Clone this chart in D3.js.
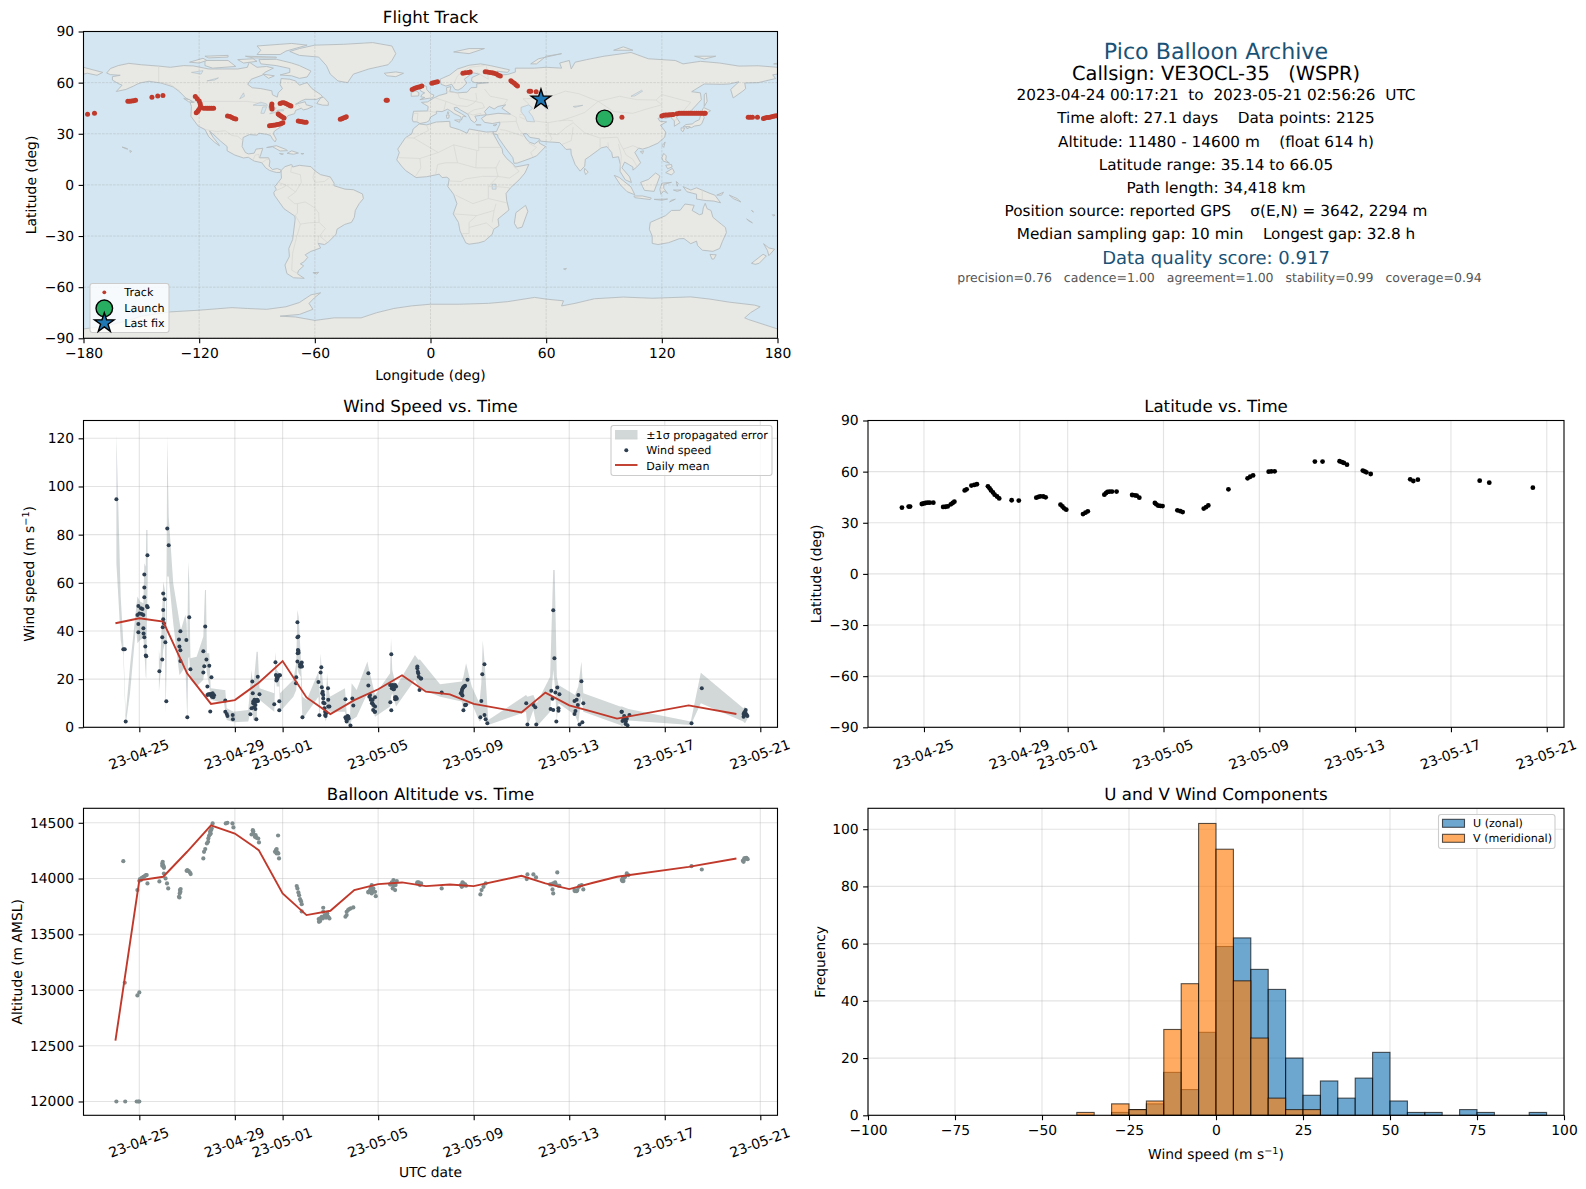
<!DOCTYPE html>
<html>
<head>
<meta charset="utf-8">
<script src="https://cdn.jsdelivr.net/npm/d3@7"></script>
<style>
    html, body { margin: 0; padding: 0; background: #fff; }
    svg { display: block; }
    text { font-family: "DejaVu Sans", sans-serif; fill: #000; text-rendering: geometricPrecision; }
</style>
</head>
<body>
<div id="chart"></div>
<script>
// ---- summary text
const headerLines = [
    "Pico Balloon Archive",
    "Callsign: VE3OCL-35   (WSPR)",
    "2023-04-24 00:17:21  to  2023-05-21 02:56:26  UTC",
    "Time aloft: 27.1 days    Data points: 2125",
    "Altitude: 11480 - 14600 m    (float 614 h)",
    "Latitude range: 35.14 to 66.05",
    "Path length: 34,418 km",
    "Position source: reported GPS    σ(E,N) = 3642, 2294 m",
    "Median sampling gap: 10 min    Longest gap: 32.8 h",
    "Data quality score: 0.917",
    "precision=0.76   cadence=1.00   agreement=1.00   stability=0.99   coverage=0.94"
];

// ---- axis ticks
const lonTicks = [-180, -120, -60, 0, 60, 120, 180];
const latTicks = [-90, -60, -30, 0, 30, 60, 90];
const speedTicks = [0, 20, 40, 60, 80, 100, 120];
const altTicks = [12000, 12500, 13000, 13500, 14000, 14500];
const freqTicks = [0, 20, 40, 60, 80, 100];
const histTicks = [-100, -75, -50, -25, 0, 25, 50, 75, 100];
const dateTicks = ["2023-04-25", "2023-04-29", "2023-05-01", "2023-05-05", "2023-05-09", "2023-05-13", "2023-05-17", "2023-05-21"];

// ---- flight track, degrees
const trackLon = [-177.9,-174.3,-157,-156,-155,-154,-153,-144.5,-141.5,-138.8,-122,-121,-120,-119.5,-119.3,-119.7,-120.4,-121.5,-120.8,-117.7,-116.5,-115.5,-114.5,-113.5,-112.5,-105.3,-104,-103,-102,-101,-82.3,-82.4,-82.3,-82.2,-78,-77,-76,-75,-74,-73,-72.4,-79,-78.4,-77.6,-76.8,-76,-83.5,-82.5,-81.5,-80.5,-79.5,-78.5,-77.5,-76.6,-68.6,-67.5,-66.5,-65.5,-64.5,-46.8,-46,-45.2,-44.4,-43.7,-23,-22.4,-9.5,-8.5,-7.5,-6.5,-5.5,-4.5,0.7,1.5,2.6,3.6,16.8,18,19.5,20.6,28.4,29.5,30.8,32,33,34.2,35.2,36.2,41.7,42.5,43.5,44.3,45.1,51.2,52,54.8,99.3,120,121,122,123,124,125,125.9,127.8,129,130,131,132,133,134,135,136,137,138,139,140,141,142,142.5,164.8,165.8,167,169.6,172.7,173.5,174.5,175.5,176.5,177.5,178.5,179.5];
const trackLat = [41.4,42,49.1,49.1,49.2,49.3,49.6,51.4,52.2,52.5,51.8,50.5,49.2,47.8,46.5,45,43.8,42.4,43,45,45,45,45,45,45,40.4,40.1,39.6,39,38.6,47.5,46.5,45.5,44.6,47.8,48.2,48.2,47.8,47.2,46.6,46.3,41.6,41,40.4,39.8,39.3,34.7,34.9,35,35.2,35.4,35.6,36,36.5,37.5,37.2,37,36.8,36.7,38.5,38.8,39.2,39.6,40,49.6,49.6,56,56.5,57,57.3,57.6,58,59.6,60,60.2,60.5,65.5,65.8,66,66.2,66.4,66.3,66,65.8,65.5,65,64.3,63.9,61.1,60.4,59.6,58.8,58,55,55,54.7,39.7,40.4,40.8,41,41,41.1,41.2,41.3,41.8,42,42,42,42.1,42,42,42,42,42,42,42,42,42,42,42,39.7,39.7,39.7,39.7,39,39.2,39.5,39.6,39.9,40.2,40.4,40.6];
const launchFix = [90.3, 39];
const lastFix = [57.3, 50.2];

// ---- wind speed, time in days after 2023-04-25 00:00 UTC
const speedDay = [-0.96,-0.67,-0.61,-0.57,-0.04,-0.04,-0.08,0,-0.04,0.07,0.1,0.17,0.17,0.18,0.21,0.25,0.27,0.29,0.21,0.21,0.21,0.34,0.35,0.32,0.13,0.84,0.96,0.96,0.98,1,1.03,1,1,1.06,1.09,1.13,1.17,1.23,1.66,1.72,1.68,1.72,1.72,1.97,2.01,2.09,2.14,2.68,2.68,2.72,2.76,2.81,2.93,3.02,2.85,2.85,2.96,3.04,3.1,3.07,2.97,3.6,3.6,3.66,3.69,3.91,3.92,4.65,4.7,4.73,4.75,4.77,4.82,4.86,4.86,4.9,4.96,4.97,5.03,5.65,5.7,5.74,5.75,5.78,5.85,5.86,5.86,6.57,6.56,6.62,6.62,6.66,6.62,6.64,6.67,6.76,6.8,6.73,6.83,7.5,7.54,7.59,7.62,7.64,7.68,7.7,7.7,7.75,7.78,7.8,7.9,7.91,7.96,8.63,8.63,8.68,8.75,8.84,8.92,8.96,9.59,9.59,9.66,9.71,9.76,9.79,9.87,9.87,9.87,10.51,10.55,10.55,10.57,10.71,10.64,10.75,10.71,11.64,11.68,11.73,11.78,11.8,12.66,13.46,13.51,13.57,13.64,13.74,13.57,13.65,13.53,14.28,14.32,14.36,14.45,14.45,14.5,14.57,16.2,16.25,16.5,16.58,16.62,17.22,17.25,17.3,17.33,17.33,17.38,17.42,17.46,17.5,17.55,17.55,17.59,18.22,18.22,18.26,18.31,18.36,18.38,18.43,18.51,18.55,18.59,20.19,20.23,20.3,20.36,20.44,20.52,20.41,23.12,23.55,25.3,25.36,25.39,25.43,25.33,
    2.89,2.99,3.04,3.13,3.07,4.77,4.84,4.8,4.89,4.94,5.75,5.81,5.89,5.72,6.73,6.78,6.81,6.66,6.63,7.66,7.7,7.75,7.82,7.78,7.91,8.65,8.72,8.68,8.77,9.63,9.69,9.74,9.8,9.77,9.85,10.5,10.61,10.71,10.57,10.66,10.75,10.71,10.78,11.64,11.66,11.7,13.5,13.54,13.6,13.5,13.64,13.68,20.2,20.27,20.3,20.37,25.33,25.36,25.4,25.46,25.3];
const speedValue = [94.7,32.4,32.4,2.4,39.5,42.9,46.6,47.3,50.4,49.4,47.1,46.6,41.1,39,37.4,33.6,29.8,29.5,54,58.1,63.5,71.4,49.8,50.4,49.1,23.3,28.2,37.4,41.5,44.9,43.2,48.7,55.6,53.2,35.3,10.8,82.6,75.6,36.5,39.9,33.6,32,27.5,36.3,4.2,45.7,24.1,31.6,22.8,25.3,41.9,28.2,25.6,20.8,16.9,13.4,13.8,13.8,12.5,13,6.6,11.1,6.5,5.5,4.7,5.1,3.3,5.4,7.9,19,14.1,10.7,11.4,9.3,7.6,3.3,21,10.9,13.7,9.6,27,19.4,21.3,20.2,21.6,10.8,7.1,20.8,18.3,43.6,37.4,37.7,27.3,32.1,31,25.2,26.9,26.2,4.2,18.8,5,22.8,24.9,16.6,14.8,13.4,10.2,7.9,6.5,4.7,16.2,11.4,8.6,11.6,4.2,3,4.4,0.7,12,9.1,22.4,17.4,13.4,11.6,10,7.2,8.6,6.5,12.5,10.4,7.1,30.3,17.4,16.9,15.8,12.5,11.6,25.2,22.4,15.5,20.3,20.3,14.4,14.1,15.5,16.6,17.3,19.7,7.1,9.3,13.2,4.2,10.9,22,26.2,5.1,3.3,1.7,10,1.2,9.3,8.3,1.2,7.6,15.2,11.9,48.6,7.2,28.7,14.5,2.4,16.5,7.9,6.9,13.7,10.9,5.5,6.8,11.4,9.3,13.4,1.2,19.1,2.1,10,6.5,2.6,4.7,1.4,0.8,5.1,3.5,1.7,16.2,4.4,5.5,7.2,5.1,6.1,
    13.7,13.3,12.7,13.3,14.1,10,11.1,8.3,10.7,11.4,20.2,21,21.6,21.7,25.2,25.9,25.2,31.8,30.7,14.1,12,10,5.8,5.1,8.6,3.7,4.7,2.4,3.7,12.7,11.4,10,9.3,11.4,6.5,17.6,17.6,17.6,16.2,15.8,16.9,12.5,11.9,24.5,23.1,21,14.8,16.2,16.9,13.8,9.3,9.4,6.5,3.7,3,2.4,5.1,6.5,5.5,4.7,5.5];

// ---- propagated error band, null splits it where the picture shows a break
const bandDay = [-0.96,-0.88,-0.78,-0.67,-0.57,-0.39,-0.14,-0.08,0.03,0.17,0.21,0.27,0.29,0.34,0.36,null,0.82,0.88,0.96,1,1.07,1.1,1.14,1.17,1.23,1.42,1.68,1.74,1.93,1.98,2.01,2.05,2.09,2.14,2.4,2.68,2.75,2.79,2.83,2.93,2.99,3.55,3.6,3.66,3.94,4.56,4.7,4.77,4.91,4.96,5.03,5.65,5.7,5.75,5.86,5.89,6.45,6.57,6.62,6.67,6.76,6.83,7.01,7.5,7.54,7.59,7.65,7.8,7.86,7.91,7.98,8.61,8.68,8.82,8.89,9.1,9.55,9.59,9.87,10.5,10.54,10.59,10.75,11.54,11.68,11.75,12.59,13.5,13.57,13.68,13.92,14.24,14.32,14.38,14.46,14.61,16.19,16.25,16.5,16.64,17.2,17.33,17.39,17.48,17.55,18.24,18.38,18.51,18.59,20.13,20.21,20.48,23.09,23.51,25.29,25.36,25.47];
const bandHigh = [121.8,91.6,54.3,34.9,5.1,25.2,48.7,54.3,52.2,51.5,68.1,66.7,81.9,81.9,54.3,null,32.1,26.6,48.7,60.5,57,36.3,62.6,121,87.5,59.8,43.9,40.4,46.7,43.2,34.9,68.8,61.2,28.7,29.3,37.7,57,57,30.7,30.7,16.2,15.5,15.5,7.9,6.5,7.2,23.8,16.2,31.4,31.4,16.2,14.1,31.4,23.8,22.4,14.1,19.7,26.6,48.7,46,29.3,12.7,11.4,23.1,12.7,30.7,22.4,6.5,22.4,16.9,12.7,16.2,5.8,5.1,18.3,15.5,27.3,25.2,13.4,22.4,37,23.8,16.9,30,28,28.2,17.9,19,21,26.6,16.9,10,18.3,36,26.6,3,13.4,12.7,13.4,10,21,65.3,65.3,21,17.6,13.4,16.9,27.3,14.1,8.6,8.6,7.6,2.4,22.7,7.9,8.6,6.5];
const bandLow = [68.1,54.3,36.3,30,1,14.1,41.8,34.9,36.3,37,32.1,21,20.3,62.6,47.3,null,14.8,21,26.6,32.1,34.9,5.8,23.8,62.6,62.6,43.2,21.7,22.4,25.2,11.4,1.7,28.7,29.3,19.7,16.9,19.7,26.6,26.6,22.4,16.9,11.4,10,6.5,3,2.1,2.4,8.6,3,2.4,14.1,11.4,6.5,22.4,16.9,16.9,6.5,12.7,15.5,25.2,22.4,21,3,5.8,12.7,3,16.9,11.4,2.4,4.4,7.2,6.5,6.5,2.4,0.3,3,4.4,14.1,12.7,4.4,8.6,12.7,14.1,8.6,19.7,16.9,16.2,12.7,10.7,6.5,8.6,10,2.4,3,5.8,3,1,6.5,0.3,7.2,0.3,6.5,23.8,18.3,3,10,5.1,1.7,12.7,6.5,1,0.3,2.8,1,10,2.4,1.7,3.7];

// ---- daily means (speed and altitude share the same days)
const dailyDay = [-1,0,1,2,3,4,5,6,7,8,9,10,11,12,13,14,16,17,18,19,20,23,25];
const dailySpeed = [43.2,45.3,43.9,22.4,9.7,11.3,18.5,27.5,12.4,5.5,11.3,15.8,21.6,14.8,13.7,9.7,6.2,14.4,9.1,6.4,3.6,9.1,5.5];
const dailyAlt = [12545,13983,14016,14240,14476,14404,14255,13866,13672,13711,13896,13950,13965,13932,13947,13932,14025,13956,13905,13962,14016,14105,14180];

// ---- latitude
const latDay = [-0.92,-0.64,-0.58,-0.09,-0.02,0.06,0.15,0.24,0.39,0.8,0.9,0.99,1.12,1.2,1.27,1.7,1.78,1.98,2.1,2.21,2.67,2.74,2.8,2.88,2.95,3.05,3.14,3.66,3.96,4.69,4.78,4.86,4.98,5.08,5.7,5.78,5.85,5.94,6.64,6.74,6.84,7.53,7.6,7.66,7.75,7.85,8.04,8.69,8.8,8.88,8.99,9.64,9.7,9.78,9.87,9.96,10.58,10.7,10.8,11.68,11.78,11.87,12.71,13.51,13.62,13.74,14.39,14.5,14.64,16.32,16.64,17.35,17.45,17.53,17.66,18.32,18.4,18.47,18.65,20.3,20.43,20.62,23.2,23.6,25.42];
const latValue = [38.9,39.5,39.5,41,41.3,41.6,41.8,41.8,41.8,39.3,39.4,39.6,40.8,41.6,42.4,49,49.6,51.8,52.2,52.6,51.4,50.2,49,47.8,46.5,45.4,44.3,43.2,43,44.7,45.2,45.5,45.4,44.9,40.6,39.6,38.5,37.7,35.1,35.9,36.7,46.5,47.4,48.1,48.3,48.3,48.3,46.3,46.1,45.9,44.7,41.6,40.8,40,39.9,39.8,37.3,36.8,36.3,38.3,39.2,40.2,49.6,56.1,57,57.8,60,60.1,60.2,65.9,65.9,66.1,65.6,65.1,64.1,60.6,60.1,59.6,58.6,55.5,54.5,55.3,54.7,53.5,50.6];

// ---- altitude samples
const altDay = [-0.96,-0.59,-0.11,-0.04,0,-0.61,-0.67,-0.08,0,-0.08,0,0.1,0.17,0.24,0.31,0.34,0.84,0.98,1,1.03,1.03,1.1,1.16,1.21,1.73,1.69,1.68,1.98,2.07,2.15,2.68,2.71,2.76,2.83,2.88,2.96,3,3.07,3.62,3.69,3.9,3.94,4.7,4.77,4.87,4.98,5.01,5.81,5.68,5.75,5.82,5.85,6.59,6.66,6.73,6.8,6.8,7.52,7.57,7.7,7.78,7.87,7.96,8.63,8.68,8.79,8.96,9.59,9.73,9.77,9.9,10.53,10.64,10.73,10.71,11.64,11.75,11.8,12.66,13.5,13.64,13.53,14.28,14.33,14.41,14.5,16.22,16.25,16.5,16.61,17.3,17.33,17.2,17.41,17.5,17.59,18.22,18.31,18.43,18.59,18.52,20.23,20.3,20.41,20.48,23.12,23.55,25.3,25.36,25.43,
    0.03,0.11,0.2,0.28,0.07,0.96,0.96,1.02,1.72,1.7,1.66,2.01,2.12,2.89,2.92,2.96,3.03,2.99,4.77,4.84,4.91,4.75,5.72,5.78,5.75,6.62,6.69,6.77,7.57,7.64,7.7,7.75,7.82,7.91,7.68,7.51,8.68,8.74,8.85,9.59,9.66,9.73,9.8,9.87,9.69,10.5,10.57,10.64,10.71,10.78,10.61,11.64,11.7,11.75,13.46,13.55,13.57,13.68,17.33,17.44,17.55,17.27,18.24,18.34,18.41,20.24,20.34,20.27,20.2,25.27,25.33,25.41,25.47,25.3];
const altValue = [12000,12000,12000,12000,12000,13065,14156,12951,12978,13896,13980,14001,14016,14025,14031,13956,13974,14150,14120,14096,14045,14001,13956,13911,13905,13866,13830,14069,14066,14040,14180,14240,14264,14315,14330,14395,14434,14494,14494,14500,14494,14458,14395,14425,14389,14359,14324,14386,14240,14264,14225,14180,13933,13875,13815,13770,13705,13612,13642,13738,13672,13687,13642,13657,13702,13726,13741,13875,13941,13881,13842,13947,13986,13941,13896,13965,13947,13956,13911,13926,13947,13965,13857,13896,13926,13956,13995,14037,14037,14010,13902,13866,13947,13965,14055,13935,13896,13887,13935,13902,13941,13977,14007,14046,14031,14111,14081,14165,14180,14180,
    13995,14007,14016,14031,13986,14135,14114,14105,13881,13896,13836,14075,14054,14360,14383,14419,14449,14404,14404,14374,14365,14434,14255,14234,14225,13911,13851,13797,13618,13657,13702,13666,13648,13657,13642,13636,13672,13717,13732,13881,13896,13866,13911,13881,13917,13947,13965,13935,13956,13977,13911,13956,13965,13941,13941,13935,13956,13935,13956,13947,13935,13947,13887,13896,13926,14001,14016,13977,13986,14159,14180,14186,14174,14150];

// ---- wind component histogram, 5 m/s bins
const binStart = d3.range(-100, 100, 5);
const uCounts = [0,0,0,0,0,0,0,0,0,0,0,0,0,0,1,2,4,15,9,29,59,62,51,44,20,7,12,6,13,22,5,1,1,0,2,1,0,0,1,0];
const vCounts = [0,0,0,0,0,0,0,0,0,0,0,0,1,0,4,2,5,30,46,102,93,47,27,6,2,2,0,0,0,0,0,0,0,0,0,0,0,0,0,0];

// ---- base map, hand read lon/lat outlines
const landShapes = [
    // North America
    [[-168,65.6],[-166,68.3],[-162,70],[-156.5,71.3],[-150,70.5],[-141,69.7],[-135,69],[-128,70],[-123,69.8],[-115,68],[-108,68],[-100,68],[-95,69],[-94,72],[-90,69],[-85,69.5],[-81.5,68.5],[-86,66],[-87,64.5],[-93,62],[-94.8,59],[-92.5,57],[-88,56.5],[-82.3,55.2],[-82,52.9],[-79.5,51.5],[-79,54],[-76.8,56.5],[-78,58.8],[-77.5,62.4],[-73,62],[-70,61],[-68,58.5],[-65.5,59.5],[-64,60],[-61.5,56.5],[-57,53],[-56,51.8],[-59,50.2],[-65,50.2],[-67,49.3],[-70,47.3],[-65,48.8],[-64.5,47],[-61,46],[-64,44.5],[-66,44],[-67,45],[-70,43.7],[-70.5,41.8],[-74,40.6],[-75.5,38],[-76,35.5],[-78,33.8],[-81,31.5],[-81.5,30],[-80,26.8],[-80.6,25.2],[-82,27],[-83,29],[-85,29.7],[-89,30.3],[-90,29.2],[-94,29.5],[-97.2,27.8],[-97.7,22.5],[-96,19],[-94.5,18.2],[-91.5,18.6],[-90.5,21],[-87,21.5],[-88,18],[-88.7,15.9],[-84,15.9],[-83.3,14],[-83.7,11],[-82,9],[-79.5,9.6],[-77.4,8.6],[-78,7.3],[-80,7.3],[-81.5,7.8],[-83.5,8.5],[-85.5,10],[-87.5,13],[-91.5,14],[-94.5,16.2],[-97,15.8],[-101.5,17.5],[-105.5,20],[-105.5,22.5],[-109,25.8],[-112.5,29.5],[-114.7,31.7],[-112.8,28],[-110,24],[-109.5,23],[-112,25],[-115,28.2],[-117,32.5],[-120.5,34.5],[-122.5,37.5],[-124.3,40.3],[-124,46],[-124.7,48.4],[-122.5,48.5],[-127,51],[-130,54.5],[-133.5,57.5],[-137,58.8],[-140,59.8],[-146,60.8],[-150,60],[-152,59.2],[-154,58],[-158,56],[-163,54.8],[-160,58.5],[-162,59.5],[-165,61.5],[-165,63.5],[-161,64.3],[-166,64.7]],
    // Arctic Canada
    [[-80,73.7],[-72,71.5],[-68,70],[-62,66.8],[-64,63.3],[-68,62.5],[-72,64],[-78,64.5],[-73,66],[-73,68.3],[-80,70],[-88,71],[-89,73.5]],
    [[-117,73],[-105,73],[-101,69.5],[-113,68.5],[-117,70]],
    [[-125,72],[-118,74.3],[-116,73],[-120,71.5]],
    [[-90,76.5],[-78,76.5],[-75,78.5],[-64,82],[-72,83],[-90,81.5],[-88,79]],
    [[-96,75.5],[-80,75],[-80,74.5],[-92,74.5]],
    [[-117,75.5],[-105,76],[-105,75],[-115,74.5]],
    [[-100,73.5],[-92,74],[-90,72.5],[-97,71.5]],
    [[-87,65],[-81,64],[-84,62.5]],
    [[-59,47.7],[-56,46.8],[-53,46.7],[-53,48.5],[-55.5,51.5],[-57,51]],
    [[-128,50.7],[-125,50],[-123.5,48.4],[-125.5,48.8]],
    // Caribbean and Hawaii
    [[-85,21.9],[-80,23],[-75,20.8],[-74.2,20.1],[-78,19.9],[-82,22.4]],
    [[-74.4,18.5],[-72,20],[-68.5,18.7],[-71,18]],
    [[-78.3,18.4],[-76.3,18.2],[-77,17.8]],
    [[-67.2,18.4],[-65.7,18.4],[-66.5,18]],
    [[-156,20.2],[-155,19.7],[-155.7,19]],
    [[-160,22.2],[-158,21.6],[-157,21],[-158,21.2]],
    // Greenland, Iceland, North Atlantic
    [[-73,78.3],[-68,80],[-60,82],[-45,82.5],[-30,83.5],[-20,81.5],[-18,77],[-20,73],[-22,70.5],[-32,68],[-40,65],[-43,60],[-48,61],[-52,65],[-54,70],[-58,75],[-68,76]],
    [[-24,65.5],[-18,66.3],[-14,65.5],[-18,63.5],[-22.5,64]],
    [[-5.5,50],[1.3,51.2],[1.7,52.8],[0,53.5],[-2,56],[-2,57.7],[-4,58.6],[-6,57.5],[-5,55],[-3,54],[-4.5,53],[-5,51.7],[-3,51.3]],
    [[-10,52],[-6.2,52.2],[-6,54],[-7.5,55.2],[-10,54.2]],
    [[12,78],[20,80],[28,80],[20,77]],
    [[52,71],[56,74],[68,77],[60,75.5],[55,71]],
    [[95,79],[105,79],[100,81]],
    [[137,75.5],[148,75.5],[142,73.8]],
    [[178,71],[180,71.4],[180,70.8]],
    // Eurasia
    [[-9,37],[-9.5,38.7],[-8.8,43.2],[-1.5,43.4],[-1.2,46],[-4.7,48.4],[-1.5,48.7],[1.6,50.9],[4.5,52.5],[8.5,53.7],[8.3,57],[10.6,57.7],[10,54.8],[14,54],[19,54.4],[21,57],[24,57.2],[24,59.3],[30,60],[23,60],[21.3,61],[21.5,63],[25.4,65],[22,65.8],[17.5,62],[18.8,59.8],[16.5,57],[14.3,55.6],[12.7,56],[11,59],[8,58],[5.5,59],[5,62],[10,64.5],[14,68],[20,70.2],[26,71],[31,70],[41,67.5],[40,66],[34.5,66.7],[35,64.3],[40,64.8],[44,66.2],[44,68.5],[54,68.5],[60,69],[68,68.5],[67,71.5],[72,73],[73,68],[75,72],[81,73.5],[90,75.5],[104,77.7],[113,74],[127,73],[131,71],[140,72.5],[150,71.5],[160,69.7],[170,69.9],[180,69],[180,65],[177.5,64.6],[179,62.4],[170,60],[163,59.8],[163.5,56.5],[162,55],[157,51],[155.7,56],[160,60.5],[155,59.2],[151,59],[142,59.2],[135.5,54.7],[140,54],[140.5,50],[135,43.3],[130,42.5],[127.5,39.7],[129.4,36.5],[126.5,34.4],[126.5,37.5],[124.5,39.8],[121.5,39],[122,40.7],[118,39],[119,37.3],[122.5,37],[119.3,35],[122,31],[121.5,28],[118,24.5],[113,22],[110,21],[108,21.6],[106,19],[109,13],[107,10.5],[105,8.7],[105,10.5],[102.5,12.2],[100.7,13.4],[99.3,10],[103.3,4.7],[104.2,1.4],[101,3],[98.3,8],[98.5,12],[97.5,16.5],[94.5,16],[94,19],[91.5,22.5],[88.5,21.7],[86.5,20],[82.3,16.5],[80.3,15],[80,11],[77.6,8.1],[75,12],[73,18],[72.8,21],[70.3,20.8],[69,22.5],[67,24.8],[61.5,25.2],[57,25.7],[56.5,27],[51.5,27.9],[50,30],[48,30],[50,26.5],[51.5,25],[54,24],[56.3,26],[56.5,24.5],[59.7,22.5],[55,17],[51,15.2],[45,12.8],[43.3,12.7],[42.7,16],[39,21.5],[35,28],[34.8,29.5],[32.8,29.9],[32.3,31.2],[34.2,31.3],[35.9,35.5],[36,36.8],[32,36],[28,36.7],[26.4,39],[29,41],[35,42],[41.5,41.5],[37,45],[39,47],[35,46],[33,44.5],[30.5,46],[28,43],[29,41.2],[26,40.8],[23,40.3],[24,38],[22.8,36.5],[21,38],[19.4,41.5],[15.5,44],[13.7,45.5],[12.3,45.3],[12.5,44],[16,41.8],[18.5,40],[17,40.4],[16,38],[15.7,40],[12.3,41.8],[10.3,43.5],[8.8,44.4],[6,43],[3,43.2],[3.2,41.8],[0,39.8],[-0.7,37.7],[-2,36.8],[-5.5,36],[-7,37]],
    [[-180,69],[-175,67.5],[-170,66],[-173,64.3],[-178,65.5],[-180,65]],
    // Africa and nearby
    [[-5.8,35.8],[-2,35.2],[3,36.9],[10,37.3],[10.2,34],[15,32.4],[19,30.3],[20,32.8],[25,31.8],[29,31],[32.3,31.2],[32.6,29.9],[33.8,27.5],[35.5,24],[37.2,21],[37.5,18.5],[39.5,15.5],[43,12],[44,10.5],[51,12],[49,7],[46,3],[41.5,-1.7],[39.2,-5],[39.5,-9],[40.7,-14.7],[35,-20],[35.5,-24],[32.8,-26],[32,-29],[28,-33],[25,-34],[20,-34.8],[18.3,-34],[15.3,-27],[14.5,-22],[11.8,-17],[13.7,-11],[12,-5.5],[9,-1],[9.7,3.5],[8.5,4.5],[6,4.3],[4.5,6.3],[-2,4.8],[-7.5,4.3],[-13,8.5],[-15,11],[-17.5,14.7],[-16.2,19],[-17,21],[-13,27.7],[-9.7,30],[-9,32.8]],
    [[49.3,-12],[50.5,-15.5],[47.5,-24.8],[45,-25.5],[43.5,-22.5],[44.3,-16.3]],
    // South America
    [[-77.4,8.6],[-75.5,10.7],[-72,12],[-71.5,10.5],[-68,11.5],[-62,10.7],[-60,8.3],[-57,6],[-52,4.7],[-50,1],[-50,-0.5],[-44.3,-2.5],[-40,-2.8],[-35.3,-5.3],[-34.8,-8],[-37,-11],[-39,-15],[-39.5,-19],[-41,-22],[-44.5,-23.2],[-48.5,-26],[-49,-29],[-53,-33.5],[-55,-35],[-58.3,-34.3],[-57,-37],[-62,-39],[-65,-41],[-63.7,-42.5],[-65.5,-45],[-67.5,-46.3],[-65.8,-47.5],[-68.5,-50.3],[-69,-52.2],[-65.5,-54.8],[-71,-54.5],[-74.5,-52],[-75.5,-47],[-73.2,-42],[-73.5,-37.3],[-71.5,-32],[-70.2,-20],[-70.4,-18.3],[-76,-14],[-81,-6],[-81.3,-4.5],[-80,-2.5],[-80.8,-1],[-79,1.5],[-77.3,4],[-77.5,7]],
    [[-61,-51.5],[-58,-51.3],[-59,-52.3]],
    // Mediterranean islands
    [[12.5,38],[15.5,38.2],[15,36.7]],
    [[8.2,41],[9.7,41],[9.5,39.2],[8.5,39]],
    [[9,43],[9.5,42.5],[9.2,41.5],[8.7,42]],
    [[23.5,35.5],[26.3,35.2],[24,35]],
    [[32.5,35],[34.5,35.6],[33.5,34.6]],
    // Asia islands
    [[80,9.7],[81.8,7.5],[80.5,6],[79.8,8]],
    [[130.9,34],[132.5,35.4],[136,35.8],[137,37],[139.5,38.3],[140,40.5],[141.3,41.3],[142,39.5],[140.8,36],[139.8,35],[136.8,34.5],[135.5,33.6],[132.5,34.2]],
    [[130,33.5],[131.8,33.3],[131,31.2],[130,32]],
    [[132.5,34],[134.5,34.2],[134,33.3],[133,33]],
    [[140,42],[141.7,45.4],[145.3,43.5],[143,42]],
    [[142,46],[143.5,49],[143,54],[142,53]],
    [[120.2,23],[121.7,25.2],[121,22]],
    [[108.8,19.5],[110.5,20],[110,18.3]],
    [[120,16],[121,18.5],[122.3,17],[122,14.5],[124,12.7],[120.7,14]],
    [[122,7.2],[125.5,9.7],[126.5,7.5],[125,5.8]],
    [[122,11.5],[125,12],[125.3,10.5],[123,9.5]],
    [[109,1.5],[113,3.2],[116.8,7],[119,5.2],[117.6,1],[116,-3.8],[111,-3.2],[110,-1]],
    [[95.3,5.6],[98,4.3],[104,-1.2],[106,-5.8],[102,-4],[98.5,0]],
    [[105.5,-6.5],[110,-6.5],[114.5,-7.7],[114,-8.6],[106,-7.5]],
    [[119.5,-5.5],[119,-2.5],[120,1],[125,1.5],[121,0.3],[121,-2],[123,-5],[121,-3.5]],
    [[116,-8.5],[123,-8.3],[120,-9]],
    [[124,-10],[127,-8.4],[125,-9]],
    [[127.5,2],[128.5,1],[128,-0.8]],
    [[126,-3],[130,-3],[128,-3.8]],
    [[131,-1],[135,-3],[138,-1.7],[145,-5],[147.5,-6],[150.5,-10.5],[147,-9.5],[143,-9.2],[138,-8.3],[138,-5.5],[133,-4]],
    [[148.5,-6],[152,-4.3],[151,-6]],
    [[155,-6],[157,-8],[161,-10],[159,-8]],
    [[166.5,-15],[167.5,-16],[167,-15.2]],
    [[164,-20],[167,-22.3],[165,-21]],
    [[177.3,-17.5],[178.7,-17.7],[178,-18.3]],
    // Australia and New Zealand
    [[114,-22],[113.5,-26],[115,-30],[115,-34.3],[118,-35],[123.5,-33.9],[129,-31.6],[131.5,-31.5],[135,-34.5],[138,-33],[138.5,-35.5],[141,-38.3],[146.5,-39],[150,-37.3],[151.5,-33],[153.5,-28],[153,-25],[150.8,-23],[146.5,-19],[145.5,-15],[143.5,-14],[142.5,-10.8],[141.5,-13.5],[141,-17],[139.5,-17.5],[135.7,-15],[136.8,-12],[132,-11.2],[129.5,-14.9],[125,-15],[122,-18],[117,-20.5]],
    [[145,-40.8],[148.2,-41],[147,-43.5],[146,-43.5]],
    [[166.5,-46],[172.5,-40.7],[174.2,-41.7],[170.5,-46],[168.5,-46.6]],
    [[172.8,-34.5],[175.5,-37],[178.5,-37.7],[175.5,-41.5],[174.8,-38.5]],
    [[69,-49.3],[70.5,-49],[70,-49.8]],
    // Antarctica
    [[-180,-84.5],[-170,-83],[-158,-80],[-150,-77],[-135,-74.5],[-120,-73.5],[-103,-72],[-95,-72.5],[-85,-73],[-75,-71.5],[-68,-69],[-62,-64.5],[-57,-63.3],[-60,-66],[-63,-69.5],[-61,-73],[-68,-76],[-78,-77],[-70,-77.5],[-60,-79.5],[-50,-78],[-36,-78],[-28,-75],[-19,-72.5],[-10,-71],[0,-70],[15,-70],[30,-69.5],[40,-68.5],[54,-66],[60,-67],[69,-68],[68,-71],[75,-69.5],[85,-66.8],[100,-65.8],[115,-66.5],[135,-65.7],[145,-67],[155,-68.8],[168,-70.5],[171,-71.5],[166,-75],[163,-78],[165,-79],[180,-84.5],[180,-91],[-180,-91]]
];

const lakeShapes = [
    [[47,45.5],[51,47],[53,45],[51,43],[53,40],[54,37],[50,37.3],[49,40],[47,43]],
    [[-92,46.8],[-88,48.5],[-85,47.5],[-84.7,46.5],[-87,46.5]],
    [[-88,42],[-87,45.7],[-85,45.8],[-86.3,42]],
    [[-84,46],[-80,45],[-81.7,43.2],[-83.5,43.8]],
    [[-83.4,41.7],[-79,42.8],[-79,43],[-83,42.2]],
    [[-79.7,43.3],[-76.2,43.5],[-76.5,44.2],[-79.5,43.8]],
    [[-124,66],[-118,67],[-119,65]],
    [[-116,61],[-110,62.8],[-112,61.5]],
    [[-99,50.5],[-97,54],[-96.5,52]],
    [[104,52],[109.5,55.5],[110,55],[106,52.2]],
    [[58.5,46.5],[61.5,46.5],[60,44.5]],
    [[74,46],[79,46.7],[75,45.5]],
    [[32,0.4],[34,0.4],[34,-2.5],[32,-2.5]]
];

const borderLines = [
    [[-123,49],[-95,49],[-89,48],[-84.5,46.5],[-82.5,45],[-82.5,42.5],[-79,43],[-75,45],[-71,45],[-69,47.3],[-67.5,45.5]],
    [[-141,69.7],[-141,60.3],[-135,59],[-130,55]],
    [[-117,32.5],[-111,31.3],[-106.5,31.8],[-103,29],[-100,28.5],[-97.2,25.9]],
    [[-92,14.7],[-91,17.5],[-89,17.9],[-89,15.9]],
    [[-87.5,13],[-85,15],[-83.5,15]],
    [[-72,12],[-72.5,7.5],[-67.5,6],[-67,1.5],[-70,-4.2],[-74,-7.5],[-70.5,-11],[-69,-11],[-65,-10],[-60,-13.5],[-58,-16.5],[-57.8,-22],[-54.5,-25.5],[-57.5,-30],[-53.5,-33.7]],
    [[-70,-18],[-67.5,-23],[-70,-33],[-71.5,-40],[-72,-50],[-68.5,-52.3]],
    [[-78.8,1.4],[-75,0],[-70,-4.2]],
    [[-80.2,-3.4],[-75.5,-1],[-75,0]],
    [[-60,8.3],[-61,4.5],[-60,1.5],[-55,2],[-52,4.7]],
    [[-70.4,-18.3],[-69,-16.5],[-69,-11]],
    [[-67.5,-23],[-62.7,-22.2],[-57.8,-22]],
    [[-58.5,-34],[-58,-30]],
    [[-8.7,27.5],[-1,32],[-2,35]],
    [[-13,27.7],[-8.7,27.5],[4,19],[12,23.5],[25,20],[25,31.8]],
    [[25,22],[36.8,22]],
    [[12,23.5],[14,13],[8,13],[3.7,12],[2.7,6.4]],
    [[-16.5,16],[-5.5,15.5],[-5,10],[-8,4.5]],
    [[-5.5,15.5],[4,19]],
    [[14,13],[23.5,10],[24,20]],
    [[23.5,10],[34,10],[36,14.5]],
    [[34,10],[35,5],[41,4],[46,8],[43,11]],
    [[35,5],[30,-1],[34,-1],[41,-1.7]],
    [[30,-1],[30,-8],[22,-11],[13,-6]],
    [[9.7,2.3],[16,2],[18,3.5],[27,5],[35,5]],
    [[30,-8],[39.5,-10.5]],
    [[12,-17],[24,-18],[33,-15],[34,-11]],
    [[24,-18],[20,-22],[20,-28.5],[16.5,-28.6]],
    [[20,-25],[29,-22.3],[32.8,-26]],
    [[32,-22],[33,-15]],
    [[-1.8,43.4],[3,42.5]],
    [[-7,37],[-6.5,42],[-9,41.9]],
    [[2.5,51],[8,49],[7,44]],
    [[8,54.8],[14.2,53.9],[15,51],[23,49],[27,48],[28,45.3],[22.5,44],[19.5,42]],
    [[8,49],[14,46.5],[19,46],[22.5,48]],
    [[23.5,54],[24,50],[22.5,48]],
    [[28,56.3],[31,52],[40,50],[38,47]],
    [[12,59],[14,64],[20,69],[28,70]],
    [[24,66],[30,62],[29,69.5]],
    [[26,40.8],[26.2,42],[22,41],[19.4,42]],
    [[36,36.8],[44.5,37.3],[44.5,39.5],[41.5,41.5]],
    [[44.5,37.3],[46,32.5],[48,30]],
    [[36,32.5],[39,32],[47,29],[48,28.5]],
    [[51,24.5],[55,22],[52,19],[53,16.5]],
    [[46,40],[49,38.5]],
    [[46,41],[48,41.8]],
    [[54,37.5],[61,36.5],[66,37.5],[71,38],[74,37.5]],
    [[61,36.5],[61,31.5],[63,27],[61.5,25.2]],
    [[61,30],[66,29.5],[70,33.5],[74,36.5]],
    [[74,36.5],[80,30.5],[88,27.5],[97,28]],
    [[74,34],[73,26],[70,24.5],[68,23.7]],
    [[88,27],[88,22]],
    [[92,25],[92.5,21]],
    [[97,28],[98.5,24],[100,21],[105,23],[108,21.6]],
    [[100,21],[101.5,17.5],[105,15],[107,11]],
    [[98.5,10],[99,17],[97.5,24]],
    [[51,47.5],[48,50.5],[60,51],[70,55],[77,53.5],[87,49],[80,42.5],[74,40],[67,37.5]],
    [[87,49],[98,52],[107,50],[117,49.8],[120,53],[135,48.5],[131,43],[130.5,42.5]],
    [[87,49],[95,43],[105,42],[112,44.5],[120,47],[117,49.8]],
    [[124.5,39.8],[128,42],[130.5,42.5]],
    [[126.5,38],[128.5,38.5]],
    [[141,-2.6],[141,-9]]
];

// ---- layout
const width = 1586;
const height = 1189;
const leftCol = [83.5, 777.5];
const rightCol = [868, 1564];
const rowMap = [31.5, 338.3];
const rowWind = [420.5, 727.3];
const rowAlt = [808.3, 1115.3];

const day0 = Date.UTC(2023, 3, 25);
const toDate = d => new Date(day0 + d * 864e5);
const dateFormat = d3.utcFormat("%y-%m-%d");
const dateTickValues = dateTicks.map(d => new Date(d + "T00:00:00Z"));

const trackRed = "#c0392b";
const slate = "#2c3e50";
const greyDots = "#7f8c8d";

const svg = d3.select("#chart").append("svg")
    .attr("width", width)
    .attr("height", height)
    .attr("viewBox", [0, 0, width, height]);

svg.append("rect").attr("width", width).attr("height", height).attr("fill", "#fff");

function addTitle(xr, yr, txt) {
    svg.append("text")
        .attr("x", (xr[0] + xr[1]) / 2)
        .attr("y", yr[0] - 8.5)
        .attr("text-anchor", "middle")
        .attr("font-size", 16.67)
        .text(txt);
}

function addXLabel(xr, y, parts) {
    const t = svg.append("text")
        .attr("x", (xr[0] + xr[1]) / 2)
        .attr("y", y)
        .attr("text-anchor", "middle")
        .attr("font-size", 13.89);
    writeUnit(t, parts);
}

function addYLabel(x, yr, parts) {
    const t = svg.append("text")
        .attr("transform", `translate(${x},${(yr[0] + yr[1]) / 2}) rotate(-90)`)
        .attr("text-anchor", "middle")
        .attr("font-size", 13.89);
    writeUnit(t, parts);
}

// a plain label, or [before, superscript, after]
function writeUnit(t, parts) {
    if (typeof parts === "string") {
        t.text(parts);
        return;
    }
    t.append("tspan").text(parts[0]);
    t.append("tspan").attr("dy", -5).attr("font-size", 9.7).text(parts[1]);
    t.append("tspan").attr("dy", 5).text(parts[2]);
}

function addGrid(g, x, y, xTicks, yTicks, yr, xr, dash) {
    const grid = g.append("g")
        .attr("stroke", dash ? "#808080" : "#b0b0b0")
        .attr("stroke-opacity", dash ? 0.3 : 0.35)
        .attr("stroke-width", dash ? 0.7 : 1.1)
        .attr("stroke-dasharray", dash ? "2.6,1.1" : null);
    xTicks.forEach(t => grid.append("line").attr("x1", x(t)).attr("x2", x(t)).attr("y1", yr[0]).attr("y2", yr[1]));
    yTicks.forEach(t => grid.append("line").attr("y1", y(t)).attr("y2", y(t)).attr("x1", xr[0]).attr("x2", xr[1]));
}

function addAxes(x, y, xr, yr, xTicks, yTicks, rotateDates) {
    const bottom = d3.axisBottom(x).tickValues(xTicks).tickSize(4.9).tickPadding(4.5);
    if (rotateDates) bottom.tickFormat(dateFormat);
    else bottom.tickFormat(d => d < 0 ? "\u2212" + Math.abs(d) : d);
    const gx = svg.append("g")
        .attr("transform", `translate(0,${yr[1]})`)
        .call(bottom);
    const gy = svg.append("g")
        .attr("transform", `translate(${xr[0]},0)`)
        .call(d3.axisLeft(y).tickValues(yTicks).tickSize(4.9).tickPadding(4.5)
            .tickFormat(d => d < 0 ? "\u2212" + Math.abs(d) : d));
    [gx, gy].forEach(g => {
        g.select(".domain").remove();
        g.attr("font-family", null).attr("font-size", 13.89);
        g.selectAll("line").attr("stroke", "#000").attr("stroke-width", 1.1);
        g.selectAll("text").attr("fill", "#000");
    });
    if (rotateDates) {
        gx.selectAll("text")
            .attr("y", 0)
            .attr("dy", "0.35em")
            .attr("text-anchor", "middle")
            .attr("transform", "translate(-1,27) rotate(-20)");
    }
    svg.append("rect")
        .attr("x", xr[0]).attr("y", yr[0])
        .attr("width", xr[1] - xr[0]).attr("height", yr[1] - yr[0])
        .attr("fill", "none").attr("stroke", "#000").attr("stroke-width", 1.1);
}

function legendBox(x, y, w, h) {
    return svg.append("rect")
        .attr("x", x).attr("y", y).attr("width", w).attr("height", h)
        .attr("rx", 2.5)
        .attr("fill", "#fff").attr("fill-opacity", 0.8)
        .attr("stroke", "#ccc").attr("stroke-width", 1.1);
}

function legendText(x, y, txt) {
    svg.append("text")
        .attr("x", x).attr("y", y).attr("dy", "0.36em")
        .attr("font-size", 11.11)
        .text(txt);
}

const starPath = d3.symbol(d3.symbolStar).size(118)();

// ---- Flight Track
{
    const x = d3.scaleLinear().domain([-180, 180]).range(leftCol);
    const y = d3.scaleLinear().domain([-90, 90]).range([rowMap[1], rowMap[0]]);
    const line = d3.line().x(d => x(d[0])).y(d => y(d[1]));

    svg.append("clipPath").attr("id", "map-clip").append("rect")
        .attr("x", leftCol[0]).attr("y", rowMap[0])
        .attr("width", leftCol[1] - leftCol[0]).attr("height", rowMap[1] - rowMap[0]);

    const g = svg.append("g").attr("clip-path", "url(#map-clip)");
    g.append("rect")
        .attr("x", leftCol[0]).attr("y", rowMap[0])
        .attr("width", leftCol[1] - leftCol[0]).attr("height", rowMap[1] - rowMap[0])
        .attr("fill", "#d4e6f1");

    g.append("g").selectAll("path").data(landShapes).enter().append("path")
        .attr("d", d => line(d) + "Z")
        .attr("fill", "#e8e8e4")
        .attr("stroke", "#b4bcc0")
        .attr("stroke-width", 0.9)
        .attr("stroke-linejoin", "round");

    g.append("g").selectAll("path").data(lakeShapes).enter().append("path")
        .attr("d", d => line(d) + "Z")
        .attr("fill", "#d4e6f1")
        .attr("stroke", "#b4bcc0")
        .attr("stroke-width", 0.6);

    g.append("g").selectAll("path").data(borderLines).enter().append("path")
        .attr("d", line)
        .attr("fill", "none")
        .attr("stroke", "#d6d6d2")
        .attr("stroke-width", 0.7);

    addGrid(g, x, y, lonTicks, latTicks, rowMap, leftCol, true);

    g.append("g").selectAll("circle").data(trackLon).enter().append("circle")
        .attr("cx", d => x(d))
        .attr("cy", (d, i) => y(trackLat[i]))
        .attr("r", 2.5)
        .attr("fill", trackRed);

    svg.append("circle")
        .attr("cx", x(launchFix[0])).attr("cy", y(launchFix[1]))
        .attr("r", 8.3)
        .attr("fill", "#27ae60").attr("stroke", "#000").attr("stroke-width", 1.4);

    svg.append("path")
        .attr("d", starPath)
        .attr("transform", `translate(${x(lastFix[0])},${y(lastFix[1])})`)
        .attr("fill", "#1f77b4").attr("stroke", "#000").attr("stroke-width", 1.4);

    addAxes(x, y, leftCol, rowMap, lonTicks, latTicks, false);
    addTitle(leftCol, rowMap, "Flight Track");
    addXLabel(leftCol, 380, "Longitude (deg)");
    addYLabel(35.5, rowMap, "Latitude (deg)");

    // legend
    legendBox(90, 283.5, 79, 49);
    svg.append("circle").attr("cx", 104.3).attr("cy", 292.3).attr("r", 1.9).attr("fill", trackRed);
    svg.append("circle").attr("cx", 104.3).attr("cy", 308.3).attr("r", 8.3)
        .attr("fill", "#27ae60").attr("stroke", "#000").attr("stroke-width", 1.4);
    svg.append("path").attr("d", starPath).attr("transform", "translate(104.3,323)")
        .attr("fill", "#1f77b4").attr("stroke", "#000").attr("stroke-width", 1.4);
    legendText(124.3, 292.3, "Track");
    legendText(124.3, 308.3, "Launch");
    legendText(124.3, 323, "Last fix");
}

// ---- summary block
{
    const centre = 1216;
    const rows = [50.6, 73, 94.5, 117.8, 141, 164, 187.3, 210.5, 233.8, 257.2, 277.5];
    const sizes = [22.2, 19.4, 15.28, 15.28, 15.28, 15.28, 15.28, 15.28, 15.28, 18, 12.5];
    const colours = ["#1a5276", "#000", "#000", "#000", "#000", "#000", "#000", "#000", "#000", "#1a5276", "#555"];
    headerLines.forEach((line, i) => {
        svg.append("text")
            .attr("x", i === 10 ? centre + 3.5 : centre).attr("y", rows[i]).attr("dy", "0.36em")
            .attr("text-anchor", "middle")
            .attr("font-size", sizes[i])
            .attr("xml:space", "preserve")
            .style("white-space", "pre")
            .style("fill", colours[i])
            .text(line);
    });
}

const timeDomain = [toDate(-2.337), toDate(26.72)];

// ---- Wind Speed vs. Time
{
    const x = d3.scaleUtc().domain(timeDomain).range(leftCol);
    const y = d3.scaleLinear().domain([0, 127.4]).range([rowWind[1], rowWind[0]]);
    const g = svg.append("g");
    addGrid(g, x, y, dateTickValues, speedTicks, rowWind, leftCol);

    const band = d3.area()
        .defined(d => d !== null)
        .x(d => x(toDate(d)))
        .y0((d, i) => y(bandLow[i]))
        .y1((d, i) => y(bandHigh[i]));
    g.append("path").datum(bandDay)
        .attr("d", band)
        .attr("fill", greyDots).attr("fill-opacity", 0.35);

    g.append("g").selectAll("circle").data(speedDay).enter().append("circle")
        .attr("cx", d => x(toDate(d)))
        .attr("cy", (d, i) => y(speedValue[i]))
        .attr("r", 2)
        .attr("fill", slate);

    g.append("path").datum(dailyDay)
        .attr("d", d3.line().x(d => x(toDate(d))).y((d, i) => y(dailySpeed[i])))
        .attr("fill", "none").attr("stroke", trackRed).attr("stroke-width", 1.9);

    addAxes(x, y, leftCol, rowWind, dateTickValues, speedTicks, true);
    addTitle(leftCol, rowWind, "Wind Speed vs. Time");
    addYLabel(34, rowWind, ["Wind speed (m s", "\u22121", ")"]);

    legendBox(611, 425.5, 161, 50);
    svg.append("rect").attr("x", 615).attr("y", 430).attr("width", 22.5).attr("height", 9.5)
        .attr("fill", greyDots).attr("fill-opacity", 0.35);
    svg.append("circle").attr("cx", 626.3).attr("cy", 450.3).attr("r", 2).attr("fill", slate);
    svg.append("line").attr("x1", 615).attr("x2", 637.5).attr("y1", 465).attr("y2", 465)
        .attr("stroke", trackRed).attr("stroke-width", 1.9);
    legendText(646.3, 435.2, "\u00b11\u03c3 propagated error");
    legendText(646.3, 450.3, "Wind speed");
    legendText(646.3, 466, "Daily mean");
}

// ---- Latitude vs. Time
{
    const x = d3.scaleUtc().domain(timeDomain).range(rightCol);
    const y = d3.scaleLinear().domain([-90, 90]).range([rowWind[1], rowWind[0]]);
    const g = svg.append("g");
    addGrid(g, x, y, dateTickValues, latTicks, rowWind, rightCol);

    g.append("g").selectAll("circle").data(latDay).enter().append("circle")
        .attr("cx", d => x(toDate(d)))
        .attr("cy", (d, i) => y(latValue[i]))
        .attr("r", 2.4)
        .attr("fill", "#000");

    addAxes(x, y, rightCol, rowWind, dateTickValues, latTicks, true);
    addTitle(rightCol, rowWind, "Latitude vs. Time");
    addYLabel(821, rowWind, "Latitude (deg)");
}

// ---- Balloon Altitude vs. Time
{
    const x = d3.scaleUtc().domain(timeDomain).range(leftCol);
    const y = d3.scaleLinear().domain([11876, 14630]).range([rowAlt[1], rowAlt[0]]);
    const g = svg.append("g");
    addGrid(g, x, y, dateTickValues, altTicks, rowAlt, leftCol);

    g.append("g").selectAll("circle").data(altDay).enter().append("circle")
        .attr("cx", d => x(toDate(d)))
        .attr("cy", (d, i) => y(altValue[i]))
        .attr("r", 2.1)
        .attr("fill", greyDots);

    g.append("path").datum(dailyDay)
        .attr("d", d3.line().x(d => x(toDate(d))).y((d, i) => y(dailyAlt[i])))
        .attr("fill", "none").attr("stroke", trackRed).attr("stroke-width", 1.9);

    addAxes(x, y, leftCol, rowAlt, dateTickValues, altTicks, true);
    addTitle(leftCol, rowAlt, "Balloon Altitude vs. Time");
    addXLabel(leftCol, 1177, "UTC date");
    addYLabel(21.5, rowAlt, "Altitude (m AMSL)");
}

// ---- U and V Wind Components
{
    const x = d3.scaleLinear().domain([-100, 100]).range(rightCol);
    const y = d3.scaleLinear().domain([0, 107.3]).range([rowAlt[1], rowAlt[0]]);
    const g = svg.append("g");
    addGrid(g, x, y, histTicks, freqTicks, rowAlt, rightCol);

    const addBars = (counts, colour) => {
        g.append("g").selectAll("rect").data(binStart).enter().append("rect")
            .attr("x", d => x(d))
            .attr("width", d => x(d + 5) - x(d))
            .attr("y", (d, i) => y(counts[i]))
            .attr("height", (d, i) => y(0) - y(counts[i]))
            .attr("fill", colour).attr("fill-opacity", 0.65)
            .attr("stroke", "#000").attr("stroke-opacity", 0.65).attr("stroke-width", 1.1);
    };
    addBars(uCounts, "#1f77b4");
    addBars(vCounts, "#ff7f0e");

    addAxes(x, y, rightCol, rowAlt, histTicks, freqTicks, false);
    addTitle(rightCol, rowAlt, "U and V Wind Components");
    addXLabel(rightCol, 1159, ["Wind speed (m s", "\u22121", ")"]);
    addYLabel(825, rowAlt, "Frequency");

    legendBox(1438.5, 814.5, 116.5, 34);
    [["#1f77b4", 823.3, "U (zonal)"], ["#ff7f0e", 838.3, "V (meridional)"]].forEach(r => {
        svg.append("rect").attr("x", 1442.5).attr("y", r[1] - 4).attr("width", 22).attr("height", 8)
            .attr("fill", r[0]).attr("fill-opacity", 0.65)
            .attr("stroke", "#000").attr("stroke-opacity", 0.65).attr("stroke-width", 1.1);
        legendText(1473, r[1], r[2]);
    });
}
</script>
</body>
</html>
